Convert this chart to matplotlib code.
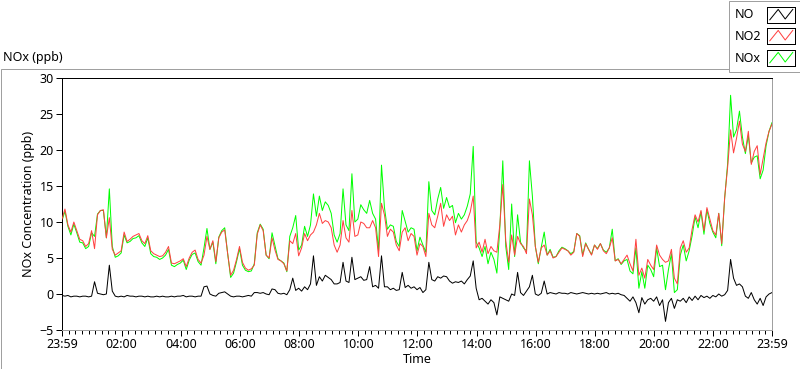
import numpy as np
import matplotlib
matplotlib.use("Agg")
import matplotlib.pyplot as plt
from matplotlib.patches import Rectangle

plt.rcParams['font.family'] = ['Noto Sans', 'DejaVu Sans']

# samples every 6 minutes from 23:59 (one row per hour)
no2 = [
    10.4, 11.8, 9.6, 8.6, 10.0, 8.8, 7.6, 7.4, 6.6, 7.0,
    8.8, 6.3, 11.0, 11.6, 11.7, 7.8, 10.6, 6.2, 5.4, 5.7,
    6.0, 8.6, 7.3, 7.6, 8.0, 8.2, 8.4, 7.4, 7.0, 8.1,
    6.0, 5.6, 5.4, 5.2, 5.3, 5.8, 6.6, 4.3, 4.2, 4.4,
    4.6, 4.9, 3.8, 5.0, 5.8, 6.1, 4.8, 4.3, 5.4, 8.0,
    6.2, 7.4, 4.5, 7.8, 8.6, 8.9, 5.6, 2.6, 3.3, 4.8,
    6.6, 4.4, 3.6, 3.3, 3.5, 4.0, 8.3, 9.6, 8.8, 5.4,
    5.0, 7.8, 6.1, 4.8, 4.6, 4.2, 3.2, 7.4, 7.0, 8.4,
    5.3, 6.4, 8.4, 7.4, 8.2, 8.6, 9.6, 11.2, 9.8, 10.2,
    10.0, 9.2, 6.8, 5.8, 6.8, 10.2, 7.8, 7.2, 11.6, 8.0,
    8.2, 10.0, 9.8, 9.2, 9.2, 10.2, 9.2, 5.2, 12.6, 11.0,
    8.0, 9.0, 8.6, 6.8, 6.0, 8.6, 9.2, 7.4, 8.4, 8.0,
    5.4, 7.0, 6.6, 5.2, 11.2, 9.6, 9.2, 10.8, 12.6, 9.4,
    11.0, 10.2, 10.8, 8.2, 9.6, 8.6, 9.6, 10.2, 11.4, 13.6,
    6.4, 7.2, 5.8, 7.6, 5.6, 6.6, 6.0, 5.8, 9.6, 15.2,
    7.4, 4.4, 8.2, 5.4, 8.0, 7.0, 6.6, 5.6, 13.2, 11.0,
    6.6, 4.4, 6.4, 6.8, 5.4, 6.0, 5.0, 5.2, 5.8, 6.4,
    6.2, 6.0, 5.4, 5.8, 8.4, 8.0, 5.2, 7.0, 6.2, 5.4,
    6.8, 6.2, 7.0, 6.0, 5.6, 6.4, 7.8, 4.6, 4.8, 4.2,
    4.8, 5.4, 4.2, 3.2, 7.6, 2.6, 3.6, 2.2, 4.8, 4.0,
    3.4, 6.8, 5.4, 4.8, 4.4, 4.6, 6.2, 2.2, 1.4, 6.4,
    7.4, 5.8, 6.4, 9.0, 11.0, 10.0, 11.6, 8.8, 12.0, 10.4,
    8.8, 8.2, 11.2, 7.0, 13.4, 17.6, 22.8, 19.6, 21.6, 24.0,
    20.8, 19.8, 22.6, 18.0, 19.8, 20.6, 16.6, 18.8, 21.0, 22.6,
    23.6,
]

no = [
    -0.2, -0.3, -0.2, -0.4, -0.3, -0.3, -0.4, -0.3, -0.3, -0.4,
    -0.3, 1.7, 0.1, 0.0, -0.1, 0.0, 4.0, 0.4, -0.3, -0.4,
    -0.3, -0.4, -0.2, -0.3, -0.3, -0.4, -0.3, -0.3, -0.4, -0.3,
    -0.4, -0.4, -0.3, -0.4, -0.3, -0.4, -0.4, -0.3, -0.4, -0.3,
    -0.3, -0.2, -0.4, -0.3, -0.3, -0.4, -0.3, -0.3, 1.0, 1.1,
    0.0, -0.2, -0.3, 0.1, 0.2, 0.3, 0.0, -0.3, -0.4, -0.3,
    -0.3, -0.4, -0.3, -0.2, -0.3, 0.2, 0.2, 0.1, 0.2, 0.0,
    -0.1, 0.7, 0.6, 0.1, 0.0, 0.1, -0.1, 0.6, 2.2, 0.5,
    0.8, 0.4, 1.0, 0.6, 1.4, 5.3, 1.2, 2.4, 1.8, 2.6,
    2.3, 2.0, 1.4, 1.4, 1.6, 4.4, 1.8, 1.6, 5.1, 2.0,
    2.2, 2.4, 1.9, 2.0, 3.8, 1.0, 1.2, 0.8, 5.3, 1.0,
    1.0, 0.6, 0.8, 0.5, 0.6, 3.0, 0.9, 1.2, 0.8, 1.0,
    0.6, 0.9, 0.2, 0.6, 4.4, 2.0, 1.8, 2.4, 2.2, 2.5,
    2.4, 1.8, 1.5, 1.7, 1.6, 1.8, 1.4, 2.0, 2.5, 4.6,
    0.8, -0.8, -0.6, -1.0, -1.4, -0.8, -1.2, -2.9, -0.4, -0.6,
    -0.8, -1.0, 0.0, -0.2, 3.0, 0.2, -0.2, 0.4, 1.0, 2.6,
    0.0, -0.2, 0.1, 1.8, 0.0, 0.2, 0.1, 0.0, 0.2, 0.1,
    0.1, 0.0, 0.2, 0.1, 0.0, 0.1, 0.2, 0.1, 0.0, 0.1,
    0.0, 0.1, 0.0, 0.1, 0.2, 0.0, 0.1, 0.0, 0.1, -0.1,
    -0.2, -0.6, -1.0, -0.4, -1.2, -2.6, -0.5, -1.4, -0.8, -0.6,
    -1.0, -0.4, -1.6, -0.8, -3.8, -1.2, -0.6, -2.0, -0.8, -1.0,
    -0.6, -1.2, -0.4, -0.9, -0.3, -0.8, -0.2, -0.5, -0.3, -0.6,
    -0.2, -0.4, 0.0, -0.3, -0.1, 0.5, 4.8, 2.2, 1.2, 1.4,
    1.0, -0.3, -0.6, 0.2, -0.8, -1.4, -0.6, -1.6, -0.4, 0.0,
    0.2,
]

nox = [
    10.2, 11.5, 9.4, 8.2, 9.7, 8.5, 7.2, 7.1, 6.3, 6.6,
    8.5, 8.0, 11.1, 11.6, 11.6, 7.8, 14.6, 6.6, 5.1, 5.3,
    5.7, 8.2, 7.1, 7.3, 7.7, 7.8, 8.1, 7.1, 6.6, 7.8,
    5.6, 5.2, 5.1, 4.8, 5.0, 5.4, 6.2, 4.0, 3.8, 4.1,
    4.3, 4.7, 3.4, 4.7, 5.5, 5.7, 4.5, 4.0, 6.4, 9.1,
    6.2, 7.2, 4.2, 7.9, 8.8, 9.2, 5.6, 2.3, 2.9, 4.5,
    6.3, 4.0, 3.3, 3.1, 3.2, 4.2, 8.5, 9.7, 9.0, 5.4,
    4.9, 8.5, 6.7, 4.9, 4.6, 4.3, 3.1, 8.0, 9.2, 10.9,
    6.1, 6.8, 9.4, 8.0, 9.6, 13.9, 10.8, 13.6, 11.6, 12.8,
    12.3, 11.2, 8.2, 7.2, 8.4, 14.6, 9.6, 8.8, 16.7, 10.0,
    10.4, 12.4, 11.7, 11.2, 13.0, 11.2, 10.4, 6.0, 17.9, 12.0,
    9.0, 9.6, 9.4, 7.3, 6.6, 11.6, 10.1, 8.6, 9.2, 9.0,
    6.0, 7.9, 6.8, 5.8, 15.6, 11.6, 11.0, 13.2, 14.8, 11.9,
    13.4, 12.0, 12.3, 9.9, 11.2, 10.4, 11.0, 12.2, 13.9, 20.5,
    7.2, 6.4, 5.2, 6.6, 4.2, 5.8, 4.8, 2.9, 9.2, 18.5,
    6.6, 3.4, 12.5, 5.2, 11.0, 7.2, 6.4, 6.0, 18.5, 13.6,
    6.6, 4.2, 6.5, 8.6, 5.4, 6.2, 5.1, 5.2, 6.0, 6.5,
    6.3, 6.0, 5.6, 5.9, 8.4, 8.1, 5.4, 7.1, 6.2, 5.5,
    6.8, 6.3, 7.0, 6.1, 5.8, 6.4, 9.0, 4.6, 4.9, 4.1,
    4.6, 4.8, 3.2, 2.8, 6.4, 0.8, 3.1, 0.8, 4.0, 3.4,
    2.4, 6.4, 3.8, 4.0, 0.6, 3.4, 5.6, 0.2, 0.6, 5.4,
    6.8, 4.6, 6.0, 8.1, 10.7, 9.2, 11.4, 8.3, 11.7, 9.8,
    8.6, 7.8, 11.2, 6.7, 13.3, 18.1, 27.6, 21.8, 22.8, 25.4,
    21.8, 19.5, 22.0, 18.2, 19.0, 19.2, 16.0, 17.2, 20.6, 22.6,
    23.8,
]

minutes = np.arange(len(no2)) * 6  # minutes since 23:59

tick_labels = ['23:59', '02:00', '04:00', '06:00', '08:00', '10:00', '12:00',
               '14:00', '16:00', '18:00', '20:00', '22:00', '23:59']
tick_pos = [0, 121, 241, 361, 481, 601, 721, 841, 961, 1081, 1201, 1321, 1440]

W, H = 800, 369
fig = plt.figure(figsize=(W / 100, H / 100), dpi=100)
px = 0.72  # one pixel in points

# outer panel frame
fig.add_artist(Rectangle((0.5 / W, 0.5 / H), (W - 1) / W, (H - 69.5) / H,
                         transform=fig.transFigure, fill=False,
                         edgecolor='#a0a0a0', lw=1 * px))
fig.text(3 / W, 1 - 57 / H, 'NOx (ppb)', fontsize=9, va='center', ha='left')

ax = fig.add_axes([62 / W, 1 - 330 / H, (772 - 62) / W, (330 - 78) / H])
ax.plot(minutes, nox, color='#00ff00', lw=1 * px, zorder=2)
ax.plot(minutes, no2, color='#ff4040', lw=1 * px, zorder=3)
ax.plot(minutes, no, color='black', lw=1 * px, zorder=4)

ax.set_xlim(0, 1440)
ax.set_ylim(-5, 30)
ax.set_yticks(range(-5, 31, 5))
ax.set_xticks(tick_pos)
ax.set_xticklabels(tick_labels)
minor = []
for a, b in zip(tick_pos[:-1], tick_pos[1:]):
    minor += list(np.linspace(a, b, 10)[1:-1])
ax.set_xticks(minor, minor=True)
ax.tick_params(axis='both', which='major', length=4, width=1 * px,
               labelsize=9, pad=2, color='black')
ax.tick_params(axis='x', which='minor', length=3, width=1 * px, color='black')
ax.set_xlabel('Time', fontsize=9, labelpad=1)
ax.set_ylabel('NOx Concentration (ppb)', fontsize=9, labelpad=3)
for s in ['left', 'top']:
    ax.spines[s].set_color('black')
for s in ['right', 'bottom']:
    ax.spines[s].set_color('#a0a0a0')
for s in ax.spines.values():
    s.set_linewidth(1 * px)

# legend panel
fig.add_artist(Rectangle((728.5 / W, 1 - 72 / H), 71 / W, 71.5 / H,
                         transform=fig.transFigure, facecolor='white',
                         edgecolor='#a0a0a0', lw=1 * px, zorder=5))
names = ['NO', 'NO2', 'NOx']
colors = ['black', '#ff4040', '#00ff00']
centers = [15, 36, 58]
for name, c, cy in zip(names, colors, centers):
    fig.text(735 / W, 1 - cy / H, name, fontsize=9, va='center', ha='left', zorder=6)
    lax = fig.add_axes([767 / W, 1 - (cy + 8) / H, 28 / W, 16 / H], zorder=6)
    lax.plot([0.1, 0.4, 0.65, 0.92], [0.2, 0.85, 0.25, 0.85], color=c, lw=1 * px)
    lax.set_xlim(0, 1)
    lax.set_ylim(0, 1)
    lax.set_xticks([])
    lax.set_yticks([])
    for s in lax.spines.values():
        s.set_linewidth(1 * px)
        s.set_color('black')

fig.savefig('out.png', dpi=100)
